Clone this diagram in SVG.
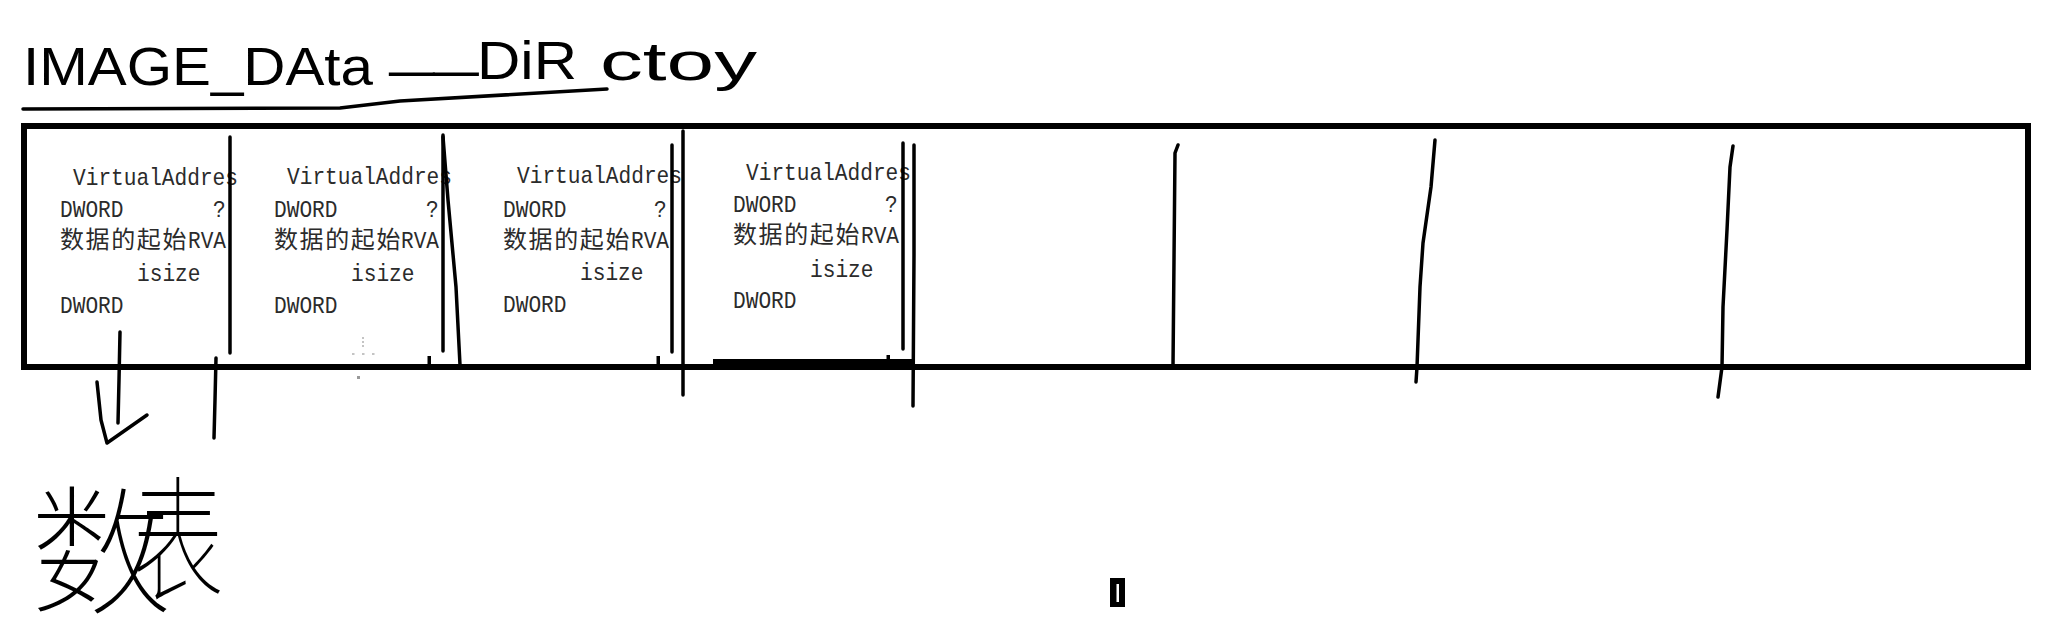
<svg xmlns="http://www.w3.org/2000/svg" width="2049" height="635" viewBox="0 0 2049 635">
<style>
.mono{font-family:"Liberation Mono","DejaVu Sans Mono",monospace;font-size:24px;fill:#2b2b2b}
.cjk{font-family:"Noto Sans CJK SC","Noto Sans CJK TC",sans-serif;font-size:24px;fill:#2b2b2b;letter-spacing:1.6px}
.hand{font-family:"Liberation Sans","DejaVu Sans",sans-serif;font-size:53px;fill:#000}
.handcjk{font-family:"Noto Sans CJK SC","Noto Sans CJK JP",sans-serif;font-weight:100;fill:#000}
.pen{stroke:#000;fill:none;stroke-linecap:round;stroke-linejoin:round}
.sep{stroke-width:3.5}
</style>
<rect x="0" y="0" width="2049" height="635" fill="#ffffff"/>

<g id="title">
  <text class="hand" x="23" y="85" textLength="350" lengthAdjust="spacingAndGlyphs">IMAGE_DAta</text>
  <text class="hand" x="390" y="65" textLength="88" lengthAdjust="spacingAndGlyphs">__</text>
  <text class="hand" x="477" y="79" textLength="100" lengthAdjust="spacingAndGlyphs">DiR</text>
  <text class="hand" x="600" y="80" textLength="157" lengthAdjust="spacingAndGlyphs">ctoy</text>
  <path class="pen" stroke-width="3.5" d="M23,109 L340,108 Q375,104 400,101 L607,89"/>
</g>

<g id="table">
  <rect x="24" y="126" width="2004" height="241" fill="none" stroke="#000" stroke-width="6"/>
  <rect x="713" y="359" width="199" height="9" fill="#000"/>
  <rect x="427.5" y="356" width="3.5" height="10" fill="#000"/>
  <rect x="656.5" y="356" width="3.5" height="10" fill="#000"/>
  <rect x="886.5" y="355" width="3.5" height="11" fill="#000"/>
  <g fill="#c4c4c4">
    <rect x="362" y="337" width="2" height="2"/>
    <rect x="362" y="341" width="2" height="2"/>
    <rect x="362" y="345" width="2" height="2"/>
    <rect x="352" y="353" width="2.5" height="2"/>
    <rect x="362" y="353" width="2.5" height="2"/>
    <rect x="372" y="353" width="2.5" height="2"/>
    <rect x="357" y="376" width="3" height="3" fill="#999"/>
  </g>
</g>

<g id="cell1">
  <text class="mono" x="73" y="185" textLength="165" lengthAdjust="spacingAndGlyphs">VirtualAddres</text>
  <text class="mono" x="60" y="217" textLength="63.5" lengthAdjust="spacingAndGlyphs">DWORD</text>
  <text class="mono" x="213" y="217" textLength="12.7" lengthAdjust="spacingAndGlyphs">?</text>
  <text x="60" y="248"><tspan class="cjk">数据的起始</tspan><tspan class="mono" x="188" textLength="38" lengthAdjust="spacingAndGlyphs">RVA</tspan></text>
  <text class="mono" x="137" y="281" textLength="63.5" lengthAdjust="spacingAndGlyphs">isize</text>
  <text class="mono" x="60" y="313" textLength="63.5" lengthAdjust="spacingAndGlyphs">DWORD</text>
</g>

<g id="cell2">
  <text class="mono" x="287" y="184" textLength="165" lengthAdjust="spacingAndGlyphs">VirtualAddres</text>
  <text class="mono" x="274" y="217" textLength="63.5" lengthAdjust="spacingAndGlyphs">DWORD</text>
  <text class="mono" x="426" y="217" textLength="12.7" lengthAdjust="spacingAndGlyphs">?</text>
  <text x="274" y="248"><tspan class="cjk">数据的起始</tspan><tspan class="mono" x="401" textLength="38" lengthAdjust="spacingAndGlyphs">RVA</tspan></text>
  <text class="mono" x="351" y="281" textLength="63.5" lengthAdjust="spacingAndGlyphs">isize</text>
  <text class="mono" x="274" y="313" textLength="63.5" lengthAdjust="spacingAndGlyphs">DWORD</text>
</g>

<g id="cell3">
  <text class="mono" x="517" y="183" textLength="165" lengthAdjust="spacingAndGlyphs">VirtualAddres</text>
  <text class="mono" x="503" y="217" textLength="63.5" lengthAdjust="spacingAndGlyphs">DWORD</text>
  <text class="mono" x="654" y="217" textLength="12.7" lengthAdjust="spacingAndGlyphs">?</text>
  <text x="503" y="248"><tspan class="cjk">数据的起始</tspan><tspan class="mono" x="631" textLength="38" lengthAdjust="spacingAndGlyphs">RVA</tspan></text>
  <text class="mono" x="580" y="280" textLength="63.5" lengthAdjust="spacingAndGlyphs">isize</text>
  <text class="mono" x="503" y="312" textLength="63.5" lengthAdjust="spacingAndGlyphs">DWORD</text>
</g>

<g id="cell4">
  <text class="mono" x="746" y="180" textLength="165" lengthAdjust="spacingAndGlyphs">VirtualAddres</text>
  <text class="mono" x="733" y="212" textLength="63.5" lengthAdjust="spacingAndGlyphs">DWORD</text>
  <text class="mono" x="885" y="212" textLength="12.7" lengthAdjust="spacingAndGlyphs">?</text>
  <text x="733" y="243"><tspan class="cjk">数据的起始</tspan><tspan class="mono" x="861" textLength="38" lengthAdjust="spacingAndGlyphs">RVA</tspan></text>
  <text class="mono" x="810" y="277" textLength="63.5" lengthAdjust="spacingAndGlyphs">isize</text>
  <text class="mono" x="733" y="308" textLength="63.5" lengthAdjust="spacingAndGlyphs">DWORD</text>
</g>

<g id="connectors" class="pen">
  <path class="sep" d="M230,137 L230,353"/>
  <path class="sep" d="M443,135 L443,351"/>
  <path class="sep" d="M443,137 L448,200 L456,287 L460,365"/>
  <path class="sep" d="M672,145 L672,352"/>
  <path class="sep" d="M683,131 L683,395"/>
  <path class="sep" d="M903,143 L903,349"/>
  <path class="sep" d="M914,145 L914,255 L913,406"/>
  <path class="sep" d="M1178,145 L1175,153 L1173,367"/>
  <path class="sep" d="M1435,140 L1431,187 L1423,243 L1420,287 L1417,367 L1416,382"/>
  <path class="sep" d="M1733,146 L1730,167 L1727,230 L1723,307 L1722,367 L1718,397"/>
  <path stroke-width="3.5" d="M120,332 L119,380 L118,423"/>
  <path stroke-width="3.5" d="M97,382 L101,420 L107,443 L147,415"/>
  <path stroke-width="3.5" d="M216,358 L215,400 L214,438"/>
</g>

<g id="label-bottom">
  <text class="handcjk" x="30" y="603" font-size="140" textLength="142" lengthAdjust="spacingAndGlyphs">数</text>
  <text class="handcjk" x="132" y="590" font-size="135" textLength="92" lengthAdjust="spacingAndGlyphs">表</text>
</g>

<g id="cursor">
  <rect x="1110" y="578" width="15" height="29" fill="#000"/>
  <rect x="1116.5" y="584" width="2.5" height="18" fill="#fff"/>
</g>
</svg>
